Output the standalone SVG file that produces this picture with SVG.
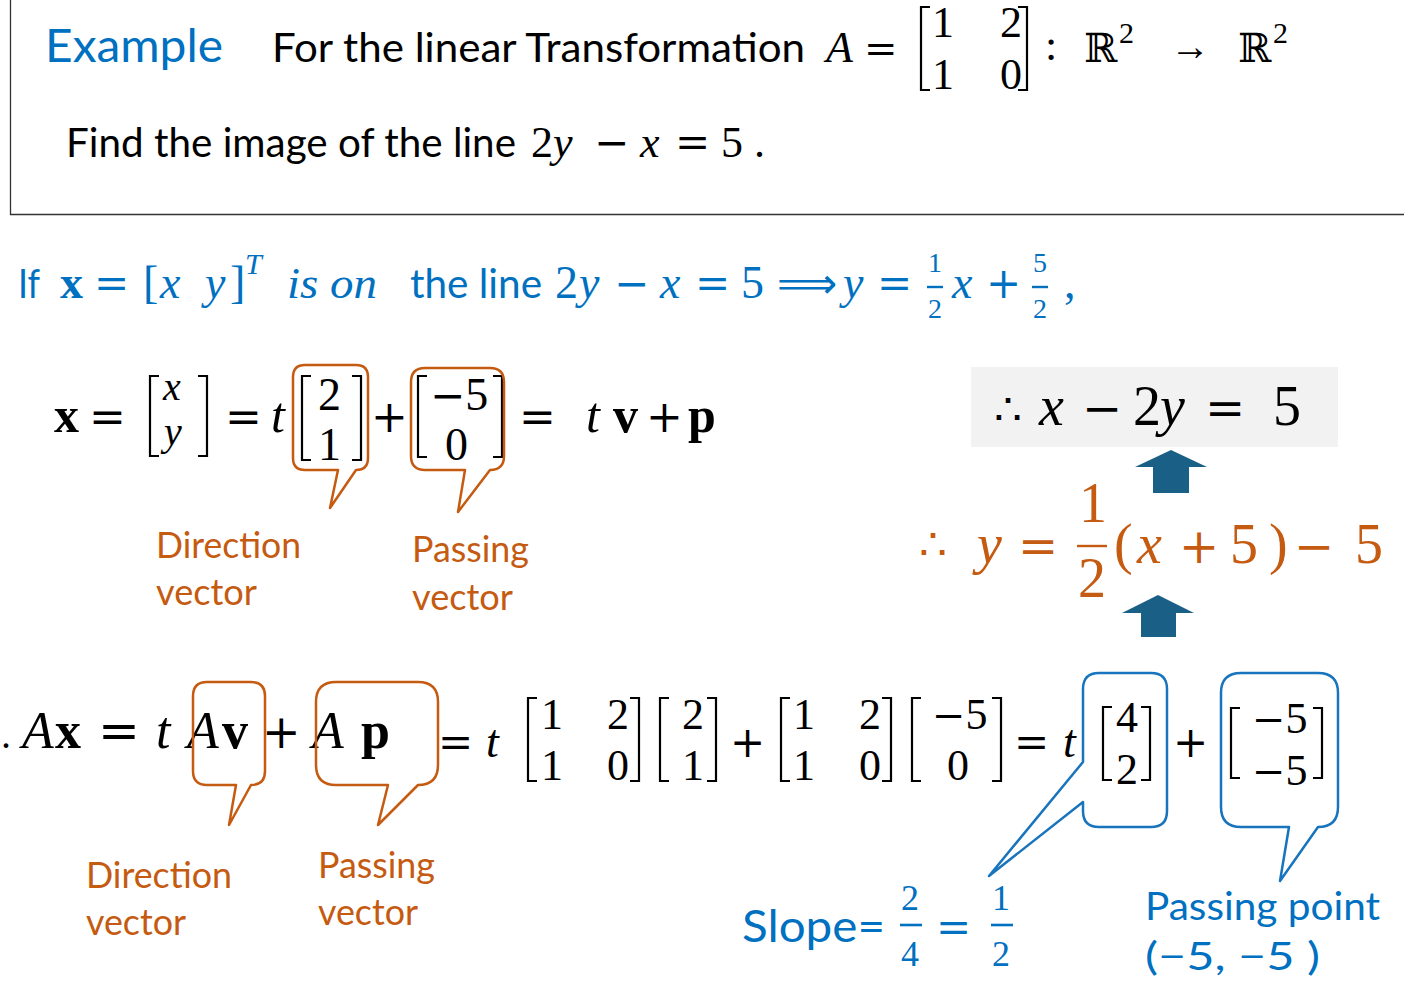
<svg xmlns="http://www.w3.org/2000/svg" width="1404" height="1006" viewBox="0 0 1404 1006">
<style>
.s{font-family:Lato,'Noto Sans','DejaVu Sans',sans-serif}
.m{font-family:'Liberation Serif','DejaVu Serif',serif}
.op{font-family:'DejaVu Serif',serif}
.i{font-style:italic}
.b{font-weight:bold}
.blue{fill:#0070C0}
.org{fill:#C55A11}
.blk{fill:#000}
.brk{fill:none;stroke:#000;stroke-width:2.2}
.bo{fill:none;stroke:#C55A11;stroke-width:2.5;stroke-linejoin:round}
.bb{fill:none;stroke:#1874BC;stroke-width:2.5;stroke-linejoin:round}
.arr{fill:#1A5F86}
.bar{stroke-width:2.4}
</style>
<rect width="1404" height="1006" fill="#fff"/>

<g id="header">
<path d="M10.5,0 V214.5 H1404" fill="none" stroke="#333" stroke-width="1.3"/>
<text class="s blue" x="45" y="62" font-size="46" textLength="178" lengthAdjust="spacingAndGlyphs">Example</text>
<text class="s blk" x="272" y="62" font-size="40" textLength="533" lengthAdjust="spacingAndGlyphs">For the  linear Transformation</text>
<g class="m" font-size="44">
<text class="i" x="826" y="62">A</text>
<text class="op" x="864" y="62" font-size="40">=</text>
<path class="brk" d="M930,7 H921 V90 H930 M1018,7 H1027 V90 H1018"/>
<text x="932" y="37">1</text><text x="932" y="89">1</text>
<text x="1000" y="37">2</text><text x="1000" y="89">0</text>
<text x="1045" y="60">:</text>
<text x="1084" y="62" font-size="40">ℝ</text><text x="1119" y="43" font-size="30">2</text>
<text x="1170" y="60" font-size="40">→</text>
<text x="1238" y="62" font-size="40">ℝ</text><text x="1273" y="43" font-size="30">2</text>
</g>
<text class="s blk" x="66" y="157" font-size="40" textLength="450" lengthAdjust="spacingAndGlyphs">Find the image of the line</text>
<g class="m" font-size="44">
<text x="531" y="157">2</text><text class="i" x="553" y="157">y</text>
<text class="op" x="594" y="157" font-size="42">−</text><text class="i" x="640" y="157">x</text>
<text class="op" x="675" y="157" font-size="42">=</text><text x="721" y="157">5</text><text x="754" y="157">.</text>
</g>
</g>

<g id="line-equation" class="blue">
<text class="s" x="18" y="298" font-size="40" textLength="22" lengthAdjust="spacingAndGlyphs">If</text>
<g class="m" font-size="46">
<text class="b" x="60" y="298">x</text>
<text class="op" x="94" y="298" font-size="42">=</text>
<text x="143" y="298">[</text><text class="i" x="160" y="298">x</text><text class="i" x="205" y="298">y</text><text x="230" y="298">]</text>
<text class="i" x="245" y="274" font-size="30">T</text>
<text class="i" x="287" y="298" font-size="44" textLength="90" lengthAdjust="spacingAndGlyphs">is on</text>
</g>
<text class="s" x="410" y="298" font-size="40" textLength="132" lengthAdjust="spacingAndGlyphs">the line</text>
<g class="m" font-size="46">
<text x="555" y="298">2</text><text class="i" x="579" y="298">y</text>
<text class="op" x="614" y="298" font-size="42">−</text><text class="i" x="660" y="298">x</text>
<text class="op" x="695" y="298" font-size="42">=</text><text x="741" y="298">5</text>
<text x="777" y="298" font-family="'DejaVu Sans',sans-serif" font-size="42">⟹</text>
<text class="i" x="843" y="298">y</text>
<text class="op" x="877" y="298" font-size="42">=</text>
<text x="928" y="272" font-size="28">1</text><line class="bar" x1="927" y1="287" x2="943" y2="287" stroke="#0070C0"/><text x="928" y="318" font-size="28">2</text>
<text class="i" x="952" y="298">x</text>
<text class="op" x="986" y="298" font-size="42">+</text>
<text x="1033" y="272" font-size="28">5</text><line class="bar" x1="1032" y1="287" x2="1048" y2="287" stroke="#0070C0"/><text x="1033" y="318" font-size="28">2</text>
<text x="1064" y="298">,</text>
</g>
</g>

<g id="param-form" class="m blk" font-size="50">
<text class="b" x="54" y="432">x</text>
<text class="op" x="89" y="432" font-size="44">=</text>
<path class="brk" d="M159,376 H150 V456 H159 M198,376 H207 V456 H198"/>
<text class="i" x="163" y="400" font-size="40">x</text>
<text class="i" x="164" y="445" font-size="40">y</text>
<text class="op" x="225" y="432" font-size="44">=</text>
<text class="i" x="271" y="432">t</text>
<path class="brk" d="M311,376 H302 V460 H311 M352,376 H361 V460 H352"/>
<text x="318" y="410" font-size="46">2</text><text x="318" y="460" font-size="46">1</text>
<text class="op" x="371" y="432" font-size="44">+</text>
<path class="brk" d="M427,376 H418 V457 H427 M493,376 H502 V457 H493"/>
<text x="430" y="410" font-size="46"><tspan class="op" font-size="42">−</tspan>5</text><text x="445" y="460" font-size="46">0</text>
<text class="op" x="519" y="432" font-size="44">=</text>
<text class="i" x="586" y="432">t</text>
<text class="b" x="613" y="432">v</text>
<text class="op" x="646" y="432" font-size="44">+</text>
<text class="b" x="688" y="432">p</text>
</g>

<g id="callout-direction-1">
<path class="bo" d="M305,365 H356 Q368,365 368,377 V458 Q368,470 356,470 L330,508 L338,470 H305 Q293,470 293,458 V377 Q293,365 305,365 Z"/>
</g>
<g id="callout-passing-1">
<path class="bo" d="M425,368 H490 Q504,368 504,382 V456 Q504,470 490,470 L458,512 L465,470 H425 Q411,470 411,456 V382 Q411,368 425,368 Z"/>
</g>
<g id="label-direction-1" class="s org" font-size="36">
<text x="156" y="558" textLength="145" lengthAdjust="spacingAndGlyphs">Direction</text>
<text x="156" y="605" textLength="101" lengthAdjust="spacingAndGlyphs">vector</text>
</g>
<g id="label-passing-1" class="s org" font-size="36">
<text x="412" y="562" textLength="117" lengthAdjust="spacingAndGlyphs">Passing</text>
<text x="412" y="610" textLength="101" lengthAdjust="spacingAndGlyphs">vector</text>
</g>

<g id="result">
<rect x="971" y="367" width="367" height="80" fill="#F2F2F2"/>
<g class="m blk" font-size="56">
<text x="994" y="425" font-size="44">∴</text>
<text class="i" x="1039" y="425">x</text>
<text class="op" x="1082" y="425" font-size="48">−</text>
<text x="1133" y="425">2</text><text class="i" x="1160" y="425">y</text>
<text class="op" x="1205" y="425" font-size="48">=</text>
<text x="1273" y="425">5</text>
</g>
</g>

<g id="orange-equation" class="m org" font-size="56">
<text x="919" y="560" font-size="44">∴</text>
<text class="i" x="977" y="563">y</text>
<text class="op" x="1018" y="563" font-size="48">=</text>
<text x="1079" y="522">1</text>
<line class="bar" x1="1077" y1="546" x2="1107" y2="546" stroke="#C55A11" stroke-width="3"/>
<text x="1078" y="597">2</text>
<text x="1114" y="563">(</text>
<text class="i" x="1137" y="563">x</text>
<text class="op" x="1179" y="563" font-size="48">+</text>
<text x="1230" y="563">5</text>
<text x="1269" y="563">)</text>
<text class="op" x="1294" y="563" font-size="48">−</text>
<text x="1355" y="563">5</text>
</g>

<g id="transform-row" class="m blk" font-size="52">
<text x="1" y="748" font-size="40">.</text>
<text class="i" x="22" y="748">A</text>
<text class="b" x="55" y="748">x</text>
<text class="op" x="98" y="748" font-size="50">=</text>
<text class="i" x="156" y="748">t</text>
<text class="i" x="187" y="748">A</text>
<text class="b" x="222" y="748">v</text>
<text class="op" x="262" y="748" font-size="46">+</text>
<text class="i" x="312" y="748">A</text>
<text class="b" x="361" y="748">p</text>
<text class="op" x="438" y="757" font-size="42">=</text>
<text class="i" x="486" y="757" font-size="46">t</text>
<g font-size="44">
<path class="brk" d="M537,698 H528 V781 H537 M630,698 H639 V781 H630"/>
<text x="541" y="729">1</text><text x="541" y="780">1</text>
<text x="607" y="729">2</text><text x="607" y="780">0</text>
<path class="brk" d="M669,698 H660 V781 H669 M707,698 H716 V781 H707"/>
<text x="682" y="729">2</text><text x="682" y="780">1</text>
<text class="op" x="730" y="757" font-size="42">+</text>
<path class="brk" d="M790,698 H781 V781 H790 M882,698 H891 V781 H882"/>
<text x="793" y="729">1</text><text x="793" y="780">1</text>
<text x="859" y="729">2</text><text x="859" y="780">0</text>
<path class="brk" d="M921,698 H912 V781 H921 M992,698 H1001 V781 H992"/>
<text x="932" y="729"><tspan class="op" font-size="40">−</tspan>5</text><text x="947" y="780">0</text>
<text class="op" x="1014" y="757" font-size="42">=</text>
<text class="i" x="1063" y="757" font-size="46">t</text>
<path class="brk" d="M1112,707 H1103 V780 H1112 M1141,707 H1150 V780 H1141"/>
<text x="1116" y="732">4</text><text x="1116" y="784">2</text>
<text class="op" x="1173" y="757" font-size="42">+</text>
<path class="brk" d="M1240,708 H1231 V778 H1240 M1313,708 H1322 V778 H1313"/>
<text x="1252" y="733"><tspan class="op" font-size="40">−</tspan>5</text><text x="1252" y="785"><tspan class="op" font-size="40">−</tspan>5</text>
</g>
</g>

<g id="callout-direction-2">
<path class="bo" d="M207,682 H251 Q265,682 265,696 V771 Q265,785 251,785 L229,825 L236,785 H207 Q193,785 193,771 V696 Q193,682 207,682 Z"/>
</g>
<g id="callout-passing-2">
<path class="bo" d="M336,682 H418 Q438,682 438,702 V765 Q438,785 418,785 L378,825 L388,785 H336 Q316,785 316,765 V702 Q316,682 336,682 Z"/>
</g>
<g id="callout-slope">
<path class="bb" d="M1099,673 H1151 Q1167,673 1167,689 V811 Q1167,827 1151,827 H1099 Q1083,827 1083,811 V802 L989,876 L1083,762 V689 Q1083,673 1099,673 Z"/>
</g>
<g id="callout-point">
<path class="bb" d="M1241,673 H1318 Q1338,673 1338,693 V807 Q1338,827 1318,827 L1280,881 L1289,827 H1241 Q1221,827 1221,807 V693 Q1221,673 1241,673 Z"/>
</g>

<g id="label-direction-2" class="s org" font-size="36">
<text x="86" y="888" textLength="146" lengthAdjust="spacingAndGlyphs">Direction</text>
<text x="86" y="935" textLength="100" lengthAdjust="spacingAndGlyphs">vector</text>
</g>
<g id="label-passing-2" class="s org" font-size="36">
<text x="318" y="878" textLength="117" lengthAdjust="spacingAndGlyphs">Passing</text>
<text x="318" y="925" textLength="100" lengthAdjust="spacingAndGlyphs">vector</text>
</g>

<g id="label-slope" class="blue">
<text class="s" x="742" y="942" font-size="44" textLength="143" lengthAdjust="spacingAndGlyphs">Slope=</text>
<g class="m" font-size="36">
<text x="901" y="910">2</text>
<line x1="900" y1="925" x2="922" y2="925" stroke="#0070C0" stroke-width="2.6"/>
<text x="901" y="966">4</text>
<text class="op" x="936" y="942" font-size="42">=</text>
<text x="992" y="910">1</text>
<line x1="991" y1="925" x2="1013" y2="925" stroke="#0070C0" stroke-width="2.6"/>
<text x="992" y="966">2</text>
</g>
</g>
<g id="label-point" class="s blue" font-size="38">
<text x="1145" y="920" textLength="235" lengthAdjust="spacingAndGlyphs">Passing point</text>
<text x="1145" y="970" textLength="175" lengthAdjust="spacingAndGlyphs">(−5, −5 )</text>
</g>

<g id="connectors">
<polygon class="arr" points="1171,450 1207,467 1189,467 1189,493 1153,493 1153,467 1135,467"/>
<polygon class="arr" points="1158,595 1194,613 1176,613 1176,637 1141,637 1141,613 1122,613"/>
</g>
</svg>
